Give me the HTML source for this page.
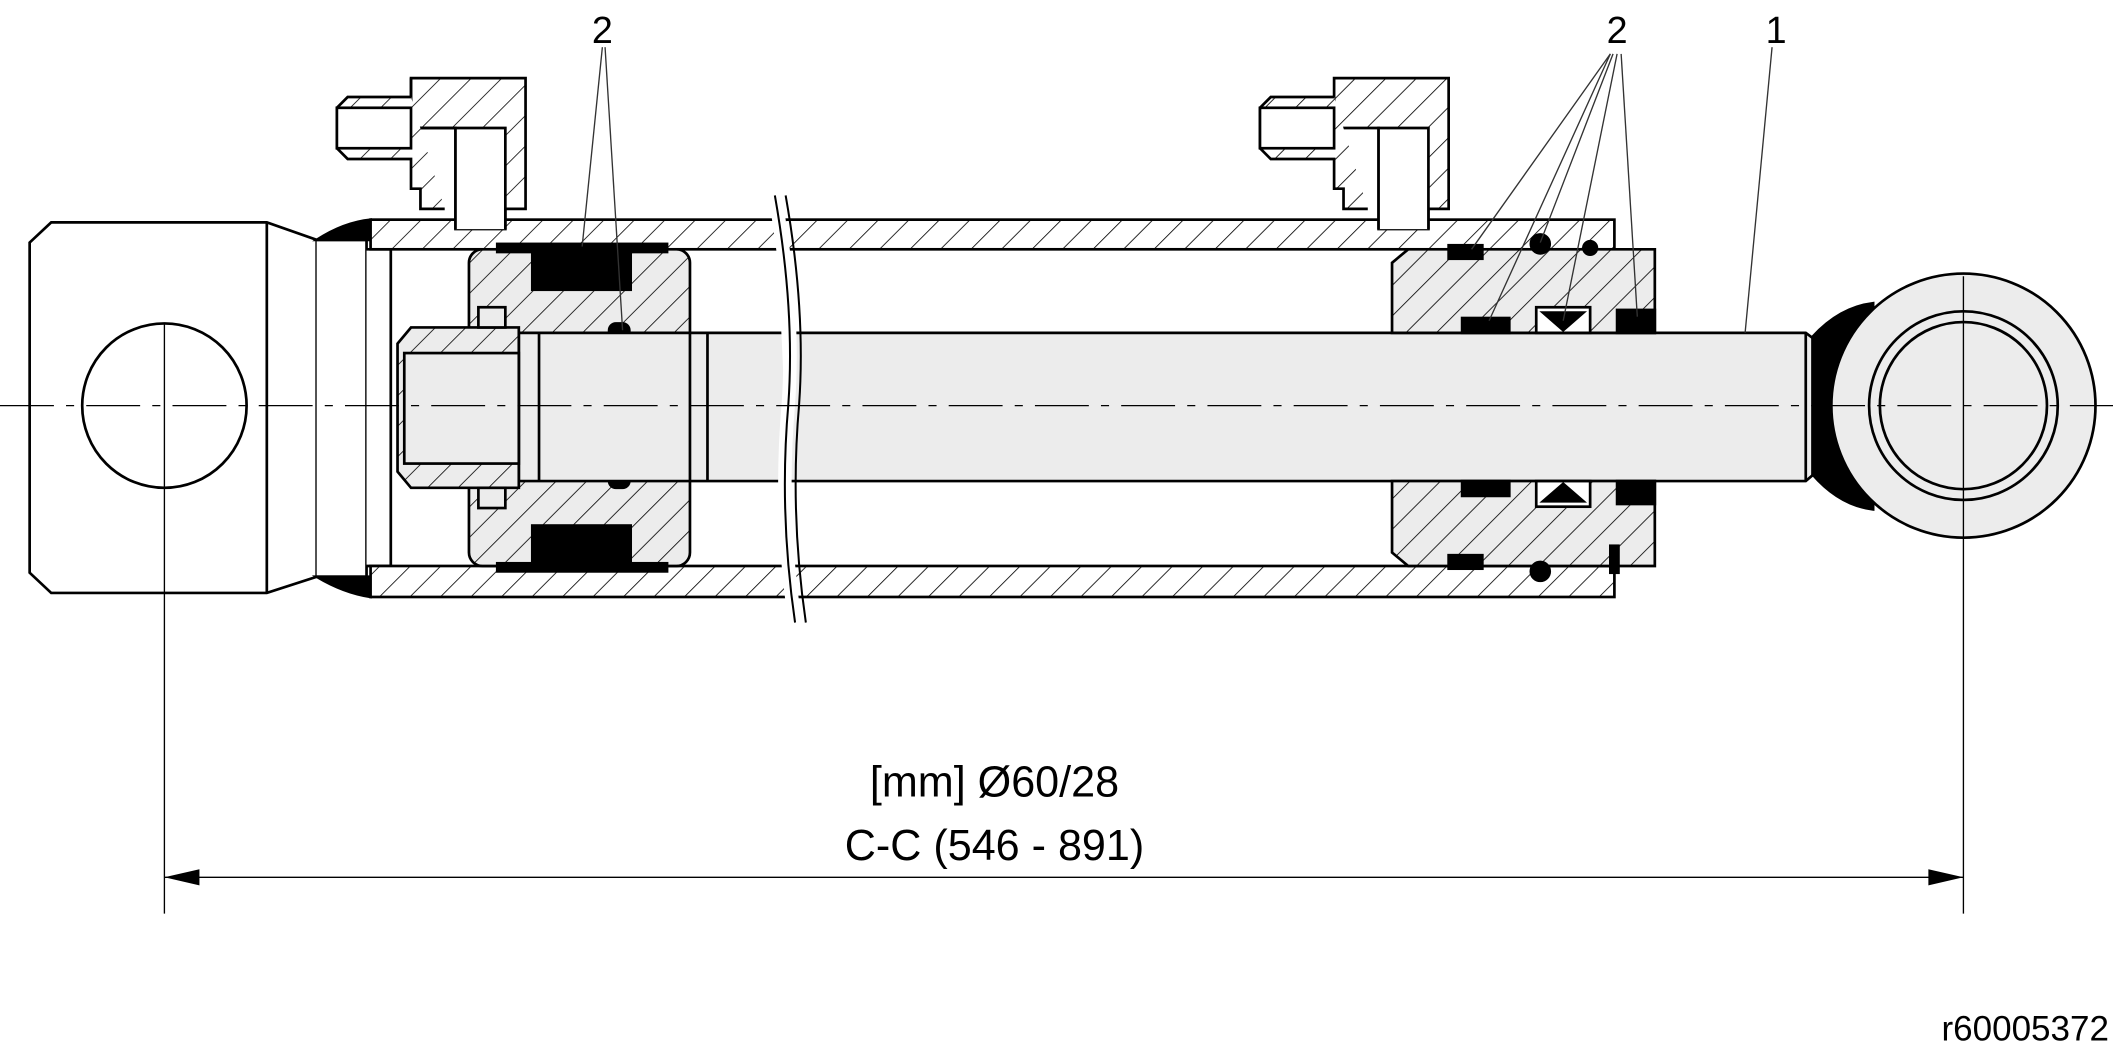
<!DOCTYPE html>
<html><head><style>html,body{margin:0;padding:0;background:#fff;}svg{display:block}</style></head>
<body>
<svg width="2113" height="1053" viewBox="0 0 1568 781.4" preserveAspectRatio="none" xmlns="http://www.w3.org/2000/svg">
<defs>
<pattern id="h" patternUnits="userSpaceOnUse" width="16" height="16" patternTransform="rotate(45)">
<rect width="16" height="16" fill="#fff"/><line x1="0" y1="0" x2="0" y2="16" stroke="#000" stroke-width="1.2"/></pattern>
<pattern id="hg" patternUnits="userSpaceOnUse" width="16" height="16" patternTransform="rotate(45)">
<rect width="16" height="16" fill="#ececec"/><line x1="0" y1="0" x2="0" y2="16" stroke="#000" stroke-width="1.2"/></pattern>
</defs>
<g stroke="#000" stroke-width="2" fill="none">
<!-- left clevis -->
<path d="M38,165 L198,165 L235,178 L235,428 L198,440 L38,440 L22,425 L22,180 Z" fill="#fff"/>
<line x1="198" y1="165" x2="198" y2="440"/>
<path d="M235,178 L272,178 L272,428 L235,428" fill="#fff"/>
<path d="M272,185 L290,185 L290,420 L272,420" fill="#fff"/>
<circle cx="122" cy="301" r="61" fill="#fff"/>
<path d="M235,178 Q255,165 275,163 L275,178 Z" fill="#000"/>
<path d="M235,428 Q255,440 275,443 L275,428 Z" fill="#000"/>
<!-- barrel walls -->
<rect x="275" y="163" width="923" height="22" fill="url(#h)"/>
<rect x="275" y="420" width="923" height="23" fill="url(#h)"/>
<!-- left port -->
<path d="M305,58 L390,58 L390,155 L375,155 L375,170 L338,170 L338,95 L305,95 Z" fill="url(#h)"/>
<path d="M338,170 L338,95 L375,95 L375,170" fill="#fff"/>
<path d="M305,58 L305,95 L338,95" />
<path d="M305,72 L258,72 L250,80 L250,110 L258,118 L305,118 L305,140 L312,140 L312,155 L330,155" fill="url(#h)"/>
<rect x="250" y="80" width="55" height="30" fill="#fff"/>
<!-- right port -->
<path d="M990,58 L1075,58 L1075,155 L1060,155 L1060,170 L1023,170 L1023,95 L990,95 Z" fill="url(#h)"/>
<path d="M1023,170 L1023,95 L1060,95 L1060,170" fill="#fff"/>
<path d="M990,72 L943,72 L935,80 L935,110 L943,118 L990,118 L990,140 L997,140 L997,155 L1015,155" fill="url(#h)"/>
<rect x="935" y="80" width="55" height="30" fill="#fff"/>
<!-- piston -->
<rect x="348" y="185" width="164" height="235" rx="10" fill="url(#hg)"/>
<rect x="395" y="185" width="73" height="30" fill="#000"/>
<rect x="395" y="390" width="73" height="30" fill="#000"/>
<rect x="368" y="180" width="128" height="8" fill="#000" stroke="none"/>
<rect x="368" y="417" width="128" height="8" fill="#000" stroke="none"/>
<rect x="452" y="240" width="15" height="14" rx="5" fill="#000"/>
<rect x="452" y="348" width="15" height="14" rx="5" fill="#000"/>
<!-- rod -->
<path d="M385,247 L1340,247 L1360,262 L1360,340 L1340,357 L385,357 Z" fill="#ececec"/>
<line x1="400" y1="247" x2="400" y2="357"/>
<line x1="512" y1="247" x2="512" y2="357"/>
<line x1="525" y1="247" x2="525" y2="357"/>
<line x1="1340" y1="247" x2="1340" y2="357"/>
<path d="M305,243 L385,243 L385,362 L305,362 L295,350 L295,255 Z" fill="url(#hg)"/>
<rect x="300" y="262" width="85" height="82" fill="#ececec"/>
<rect x="355" y="228" width="20" height="15" fill="#ececec"/>
<rect x="355" y="362" width="20" height="15" fill="#ececec"/>
<!-- break lines -->
<path d="M575,145 Q590,230 585,300 Q578,380 590,462" fill="#fff" stroke="#fff" stroke-width="10"/>
<path d="M575,145 Q590,230 585,300 Q578,380 590,462" stroke-width="1.5"/>
<path d="M583,145 Q598,230 593,300 Q586,380 598,462" stroke-width="1.5"/>
<!-- gland -->
<path d="M1045,185 L1228,185 L1228,247 L1033,247 L1033,195 Z" fill="url(#hg)"/>
<path d="M1033,357 L1228,357 L1228,420 L1045,420 L1033,410 Z" fill="url(#hg)"/>
<rect x="1075" y="182" width="25" height="10" fill="#000"/>
<rect x="1075" y="412" width="25" height="10" fill="#000"/>
<rect x="1085" y="236" width="35" height="11" fill="#000"/>
<rect x="1085" y="357" width="35" height="11" fill="#000"/>
<rect x="1140" y="228" width="40" height="19" fill="#fff"/>
<rect x="1140" y="357" width="40" height="19" fill="#fff"/>
<path d="M1145,232 L1175,232 L1160,245 Z" fill="#000"/>
<path d="M1145,372 L1175,372 L1160,359 Z" fill="#000"/>
<rect x="1200" y="230" width="28" height="17" fill="#000"/>
<rect x="1200" y="357" width="28" height="17" fill="#000"/>
<circle cx="1143" cy="181" r="7" fill="#000"/>
<circle cx="1143" cy="424" r="7" fill="#000"/>
<circle cx="1180" cy="184" r="5" fill="#000"/>
<rect x="1195" y="405" width="6" height="20" fill="#000"/>
<!-- eye -->
<path d="M1345,250 Q1365,228 1390,225 L1390,378 Q1365,375 1345,352 Z" fill="#000"/>
<circle cx="1457" cy="301" r="98" fill="#ececec"/>
<circle cx="1457" cy="301" r="62" fill="#ececec"/>
<circle cx="1457" cy="301" r="70" fill="none"/>
</g>
<!-- centre line -->
<line x1="0" y1="301" x2="1568" y2="301" stroke="#000" stroke-width="1" stroke-dasharray="40,9,6,9"/>
<!-- dimension -->
<g stroke="#000" stroke-width="1">
<line x1="122" y1="240" x2="122" y2="678"/>
<line x1="1457" y1="205" x2="1457" y2="678"/>
<line x1="122" y1="651" x2="1457" y2="651"/>
</g>
<g stroke="#333" stroke-width="1">
<line x1="447" y1="35" x2="432" y2="183"/>
<line x1="449" y1="35" x2="462" y2="245"/>
<line x1="1195" y1="40" x2="1092" y2="185"/>
<line x1="1195" y1="40" x2="1105" y2="238"/>
<line x1="1197" y1="40" x2="1143" y2="180"/>
<line x1="1200" y1="40" x2="1160" y2="238"/>
<line x1="1203" y1="40" x2="1215" y2="235"/>
<line x1="1315" y1="35" x2="1295" y2="247"/>
</g>
<path d="M122,651 L148,645 L148,657 Z" fill="#000"/>
<path d="M1457,651 L1431,645 L1431,657 Z" fill="#000"/>
<g font-family="Liberation Sans, sans-serif" fill="#000">
<text x="447" y="32" font-size="28" text-anchor="middle">2</text>
<text x="1200" y="32" font-size="28" text-anchor="middle">2</text>
<text x="1318" y="32" font-size="28" text-anchor="middle">1</text>
<text x="738" y="591" font-size="32" text-anchor="middle">[mm] Ø60/28</text>
<text x="738" y="638" font-size="32" text-anchor="middle">C-C (546 - 891)</text>
<text x="1565" y="772" font-size="26" text-anchor="end">r60005372</text>
</g>
</svg>
</body></html>
